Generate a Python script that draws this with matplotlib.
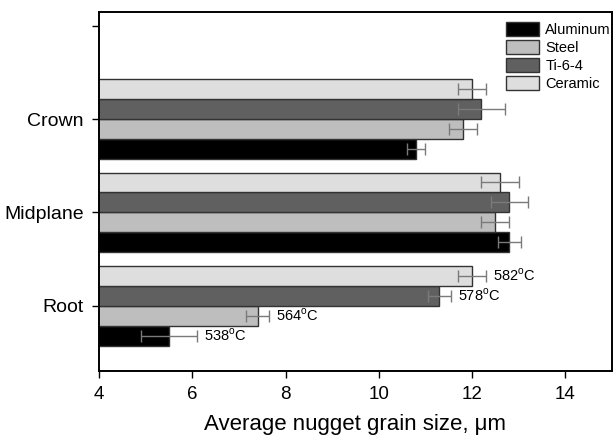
import matplotlib
matplotlib.use("Agg")
import matplotlib.pyplot as plt
import numpy as np

plt.rcParams['font.family'] = ['Liberation Sans', 'DejaVu Sans']
plt.rcParams['mathtext.fontset'] = 'custom'
plt.rcParams['mathtext.rm'] = 'Liberation Sans'

locations = ['Root', 'Midplane', 'Crown']
materials = ['Aluminum', 'Steel', 'Ti-6-4', 'Ceramic']
aluminum = [5.5, 12.8, 10.8]
aluminum_err = [0.6, 0.25, 0.2]
steel = [7.4, 12.5, 11.8]
steel_err = [0.24, 0.3, 0.3]
ti64 = [11.3, 12.8, 12.2]
ti64_err = [0.25, 0.4, 0.5]
ceramic = [12.0, 12.6, 12.0]
ceramic_err = [0.3, 0.4, 0.3]
root_temps = ['538', '564', '578', '582']
xticks = [4, 6, 8, 10, 12, 14]

series = [aluminum, steel, ti64, ceramic]
errors = [aluminum_err, steel_err, ti64_err, ceramic_err]
colors = ['#000000', '#bebebe', '#606060', '#dedede']

fig = plt.figure(figsize=(6.13, 4.41), dpi=100)
ax = fig.add_axes([99/613, 70/441, 513/613, 359.3/441])

h = 0.2143
y = np.arange(len(locations))
offsets = [-1.5*h, -0.5*h, 0.5*h, 1.5*h]
for vals, errs, col, off, name in zip(series, errors, colors, offsets, materials):
    ax.barh(y + off, vals, height=h, left=0, color=col, edgecolor='#333333',
            linewidth=1.0, label=name, zorder=2)
    ax.errorbar(vals, y + off, xerr=errs, fmt='none', ecolor='#7a7a7a',
                elinewidth=1.0, capsize=4, capthick=1.0, zorder=3)

# temperature labels at root
for vals, errs, off, t in zip(series, errors, offsets, root_temps):
    ax.annotate(t + r'$^{\mathrm{o}}$C', xy=(vals[0] + errs[0], 0 + off),
                xytext=(5, 0), textcoords='offset points', ha='left', va='center',
                fontsize=10.5, zorder=4)

ax.set_xlim(4, 15)
ax.set_ylim(-0.7, 3.153)
ax.set_xticks(xticks)
ax.set_xticklabels([str(t) for t in xticks], fontsize=13.5)
ax.set_yticks([0, 1, 2, 3])
ax.set_yticklabels(locations + [''], fontsize=14)
ax.tick_params(axis='both', direction='out', length=5, width=1.0)
ax.tick_params(axis='x', pad=6)
ax.tick_params(axis='y', pad=6)
for s in ax.spines.values():
    s.set_linewidth(1.4)
ax.set_xlabel('Average nugget grain size, μm', fontsize=16, labelpad=8)

leg = ax.legend(loc='upper left', bbox_to_anchor=(0.793, 0.972), frameon=False,
                fontsize=10.5, handlelength=2.3, handleheight=1.1,
                labelspacing=0.22, handletextpad=0.4, borderaxespad=0,
                borderpad=0)
for p in leg.get_patches():
    p.set_edgecolor('#333333')

fig.savefig('out.png', dpi=100)
